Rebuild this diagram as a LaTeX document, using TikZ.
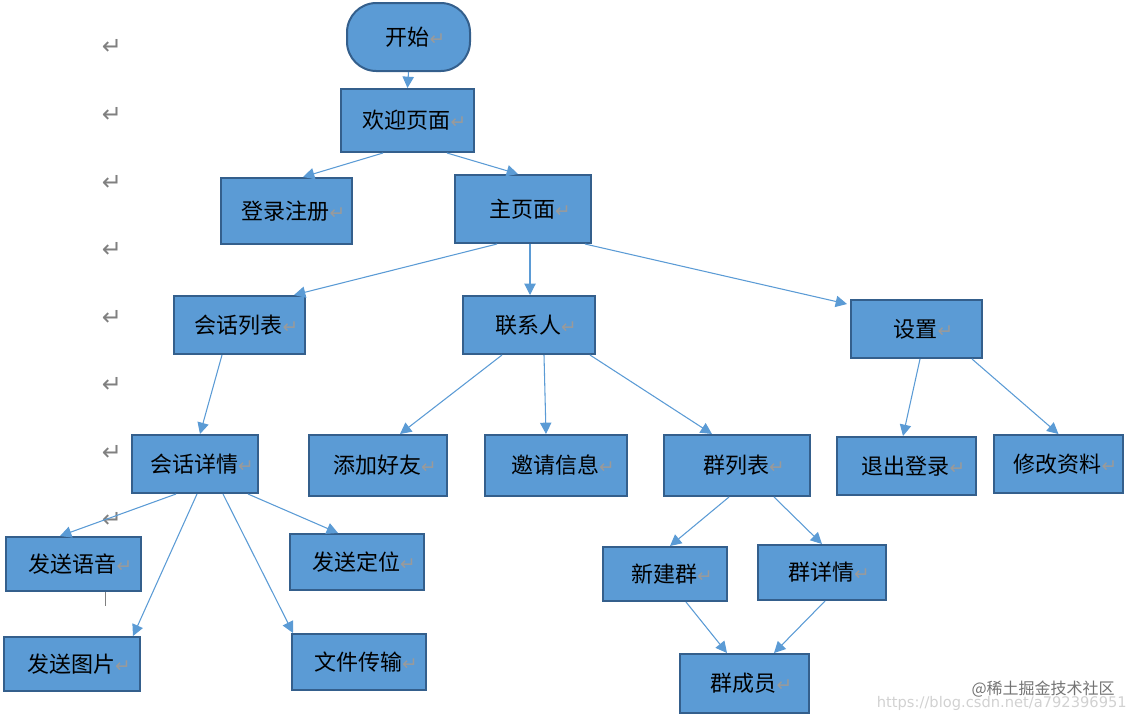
\documentclass[tikz,border=0pt]{standalone}
\usepackage{fontspec}
\usetikzlibrary{arrows.meta}
\newfontfamily\cjk{Noto Sans CJK SC}
\newfontfamily\symf{DejaVu Sans}
\definecolor{boxfill}{HTML}{5B9BD5}
\definecolor{boxline}{HTML}{345F8C}
\definecolor{arrline}{HTML}{5B9BD5}
\definecolor{retgray}{HTML}{9A9A9A}
\newcommand\rt{{\symf\color{retgray}\fontsize{14}{14}\selectfont ↵}}
\tikzset{
  x=0.75pt, y=-0.75pt,
  box/.style={draw=boxline, line width=1.5pt, fill=boxfill, inner sep=0pt,
    font=\cjk\fontsize{16.5}{18}\selectfont, text=black},
  arr/.style={draw=arrline, line width=0.8pt, -{Triangle[length=8.5pt,width=8.5pt]}},
  retmark/.style={font=\symf\fontsize{18}{18}\selectfont, text=gray, inner sep=0pt},
}
\newcommand\bx[7][]{\node[box,#1, minimum width={(#5-#3)*0.75pt}, minimum height={(#6-#4)*0.75pt}] (#2) at ({(#3+#5)/2},{(#4+#6)/2}) {\hspace*{10.5pt}#7\rt};}
\newcommand\edge[4]{\draw[arr] ([xshift=#2*0.75pt]#1.south) -- ([xshift=#4*0.75pt]#3.north);}
\begin{document}
\begin{tikzpicture}
\useasboundingbox (0,0) rectangle (1135,719);
% left column paragraph marks
\foreach \yy/\nm in {47/r1,115/r2,183/r3,250/r4,318/r5,385/r6,453/r7,520/r8}
  \node[retmark] (\nm) at (112,\yy) {↵};
\draw[gray, line width=0.6pt] (105,586) -- (105,606);
% boxes
\bx[rounded corners=22pt]{start}{347}{3}{470}{71}{开始}
\bx{welcome}{341}{89}{474}{152}{欢迎页面}
\bx{login}{221}{178}{352}{244}{登录注册}
\bx{main}{455}{175}{591}{243}{主页面}
\bx{chats}{174}{296}{305}{354}{会话列表}
\bx{contacts}{463}{296}{595}{354}{联系人}
\bx{settings}{851}{300}{982}{358}{设置}
\bx{chatdetail}{132}{435}{258}{493}{会话详情}
\bx{addfriend}{309}{435}{447}{496}{添加好友}
\bx{invite}{485}{435}{627}{496}{邀请信息}
\bx{grouplist}{664}{435}{810}{496}{群列表}
\bx{logout}{837}{437}{976}{495}{退出登录}
\bx{profile}{994}{435}{1123}{493}{修改资料}
\bx{voice}{6}{537}{141}{591}{发送语音}
\bx{loc}{290}{534}{424}{590}{发送定位}
\bx{pic}{4}{637}{140}{691}{发送图片}
\bx{file}{292}{634}{426}{690}{文件传输}
\bx{newgroup}{603}{547}{727}{601}{新建群}
\bx{groupdetail}{758}{545}{886}{600}{群详情}
\bx{members}{680}{654}{809}{713}{群成员}
% connectors
\edge{start}{0}{welcome}{0}
\edge{welcome}{-24.5}{login}{16.5}
\edge{welcome}{39.5}{main}{-5}
\edge{main}{-26}{chats}{54.5}
\edge{main}{7}{contacts}{1}
\draw[arr] ([xshift=62*0.75pt]main.south) -- ([xshift=-3*0.75pt,yshift=-5*0.75pt]settings.north west);
\edge{chats}{-17.5}{chatdetail}{5}
\edge{contacts}{-27}{addfriend}{22}
\edge{contacts}{15}{invite}{-10}
\edge{contacts}{61}{grouplist}{-25}
\edge{settings}{3.5}{logout}{-3.5}
\edge{settings}{55.5}{profile}{0}
\edge{chatdetail}{-19}{voice}{-13.5}
\edge{chatdetail}{2}{pic}{61}
\edge{chatdetail}{28}{file}{-66}
\edge{chatdetail}{53}{loc}{-19}
\edge{grouplist}{-8}{newgroup}{5}
\edge{grouplist}{37}{groupdetail}{0}
\edge{newgroup}{21}{members}{-17.5}
\edge{groupdetail}{3}{members}{29.5}
% watermark
\node[font=\cjk\fontsize{12}{12}\selectfont, text=black!55, anchor=east, inner sep=0pt] (wm) at (1115,689) {@稀土掘金技术社区};
\node[font=\symf\fontsize{11}{11}\selectfont, text=black!18, anchor=east, inner sep=0pt] (url) at (1127,703) {https://blog.csdn.net/a792396951};
\end{tikzpicture}
\end{document}
